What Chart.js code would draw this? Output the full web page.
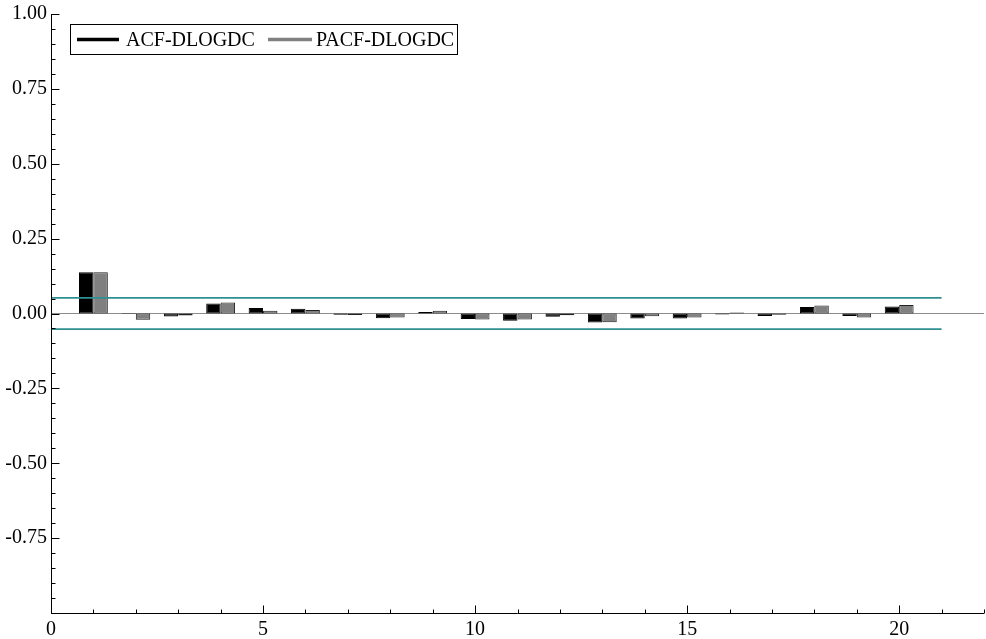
<!DOCTYPE html>
<html>
<head>
<meta charset="utf-8">
<script src="https://cdn.jsdelivr.net/npm/chart.js@4/dist/chart.umd.min.js"></script>
<style>
  html, body { margin: 0; padding: 0; background: #ffffff; }
  #wrap { width: 986px; height: 639px; }
</style>
</head>
<body>
<div id="wrap"><canvas id="c" width="986" height="639"></canvas></div>
<script>
// Correlogram of DLOGDC: autocorrelations and partial autocorrelations by lag
const lags = [1, 2, 3, 4, 5, 6, 7, 8, 9, 10, 11, 12, 13, 14, 15, 16, 17, 18, 19, 20];
const acfValues = [0.138, -0.002, -0.010, 0.033, 0.018, 0.016, -0.004, -0.016, 0.005, -0.018,
                   -0.024, -0.011, -0.030, -0.017, -0.017, -0.003, -0.008, 0.022, -0.008, 0.023];
const pacfValues = [0.138, -0.021, -0.007, 0.037, 0.009, 0.012, -0.005, -0.013, 0.009, -0.020,
                    -0.020, -0.006, -0.029, -0.009, -0.013, 0.003, -0.004, 0.027, -0.013, 0.028];
const confBand = 0.052;          // approximate 95% band, ±2/sqrt(T)
const bandLags = [0, 21];
const zeroLags = [0, 22];
const yTickLabels = ['1.00', '0.75', '0.50', '0.25', '0.00', '-0.25', '-0.50', '-0.75'];
const xTickLabels = ['0', '5', '10', '15', '20'];

const FONT = "'Liberation Serif', 'Times New Roman', serif";

const toPoints = (xs, ys) => xs.map((x, i) => ({ x: x, y: ys[i] }));

// Axis lines, inward tick marks and the boxed legend
const framePlugin = {
  id: 'frame',
  afterDraw(chart) {
    const { ctx, chartArea: a, scales } = chart;
    const xs = scales.x, ys = scales.y;
    ctx.save();
    ctx.strokeStyle = '#000';
    ctx.lineWidth = 1;
    ctx.beginPath();
    const ax = Math.round(a.left) + 0.5;
    const ay = Math.round(a.bottom) + 0.5;
    ctx.moveTo(ax, a.top);
    ctx.lineTo(ax, ay);
    ctx.lineTo(a.right, ay);
    // y ticks every 0.05, major every 0.25
    for (let i = -20; i <= 20; i++) {
      const v = i * 0.05;
      const py = Math.round(ys.getPixelForValue(v)) + 0.5;
      const len = (i % 5 === 0) ? 8 : 4;
      ctx.moveTo(ax, py);
      ctx.lineTo(ax + len, py);
    }
    // x ticks every lag, major every 5
    for (let k = 0; k <= 22; k++) {
      const px = Math.round(xs.getPixelForValue(k)) + 0.5;
      const len = (k % 5 === 0) ? 8 : 4;
      ctx.moveTo(px, ay);
      ctx.lineTo(px, ay - len);
    }
    ctx.stroke();

    // legend
    const bx = 70.5, by = 24.5, bw = 387, bh = 30;
    ctx.strokeStyle = '#000';
    ctx.strokeRect(bx, by, bw, bh);
    ctx.font = '20px ' + FONT;
    ctx.textBaseline = 'middle';
    ctx.fillStyle = '#000';
    const cy = by + bh / 2 + 1;
    const items = [
      { label: chart.data.datasets[0].label, color: '#000000', x0: 77, x1: 119, tx: 126 },
      { label: chart.data.datasets[1].label, color: '#808080', x0: 268, x1: 312, tx: 316 }
    ];
    items.forEach(it => {
      ctx.strokeStyle = it.color;
      ctx.lineWidth = 3.5;
      ctx.beginPath();
      ctx.moveTo(it.x0, cy - 1);
      ctx.lineTo(it.x1, cy - 1);
      ctx.stroke();
      ctx.fillText(it.label, it.tx, cy);
    });
    ctx.restore();
  }
};

new Chart(document.getElementById('c'), {
  type: 'bar',
  data: {
    datasets: [
      {
        label: 'ACF-DLOGDC',
        data: toPoints(lags, acfValues),
        backgroundColor: '#000000',
        borderColor: '#000000',
        borderWidth: 1,
        borderSkipped: false,
        categoryPercentage: 0.68,
        barPercentage: 1.0,
        order: 2
      },
      {
        label: 'PACF-DLOGDC',
        data: toPoints(lags, pacfValues),
        backgroundColor: '#808080',
        borderColor: '#202020',
        borderWidth: 1,
        borderSkipped: false,
        categoryPercentage: 0.68,
        barPercentage: 1.0,
        order: 2
      },
      {
        type: 'line',
        label: 'zero',
        data: toPoints(zeroLags, [0, 0]),
        borderColor: '#8c8c8c',
        borderWidth: 1,
        pointRadius: 0,
        order: 3
      },
      {
        type: 'line',
        label: 'upper band',
        data: toPoints(bandLags, [confBand, confBand]),
        borderColor: '#2f9090',
        borderWidth: 1.8,
        pointRadius: 0,
        order: 1
      },
      {
        type: 'line',
        label: 'lower band',
        data: toPoints(bandLags, [-confBand, -confBand]),
        borderColor: '#2f9090',
        borderWidth: 1.8,
        pointRadius: 0,
        order: 1
      }
    ]
  },
  options: {
    responsive: false,
    animation: false,
    layout: { padding: { top: 14, right: 2, left: 0, bottom: 0 } },
    plugins: {
      legend: { display: false },
      tooltip: { enabled: false }
    },
    scales: {
      x: {
        type: 'linear',
        min: 0,
        max: 22,
        offset: false,
        grid: { display: false, drawTicks: false },
        border: { display: false },
        ticks: {
          stepSize: 1,
          autoSkip: false,
          maxRotation: 0,
          padding: 5,
          color: '#000',
          font: { family: FONT, size: 20 },
          callback: v => (v % 5 === 0 && v <= 20) ? xTickLabels[v / 5] : ''
        },
        afterFit(s) { s.height = 26; s.paddingLeft = 0; s.paddingRight = 0; }
      },
      y: {
        min: -1,
        max: 1,
        grid: { display: false, drawTicks: false },
        border: { display: false },
        ticks: {
          stepSize: 0.05,
          autoSkip: false,
          padding: 4,
          color: '#000',
          font: { family: FONT, size: 20 },
          callback: v => {
            const q = v / 0.25;
            const r = Math.round(q);
            if (Math.abs(q - r) > 1e-6 || r < -3) return '';
            return yTickLabels[4 - r];
          }
        },
        afterFit(s) { s.width = 51; s.paddingTop = 0; s.paddingBottom = 0; }
      }
    }
  },
  plugins: [framePlugin]
});
</script>
</body>
</html>
